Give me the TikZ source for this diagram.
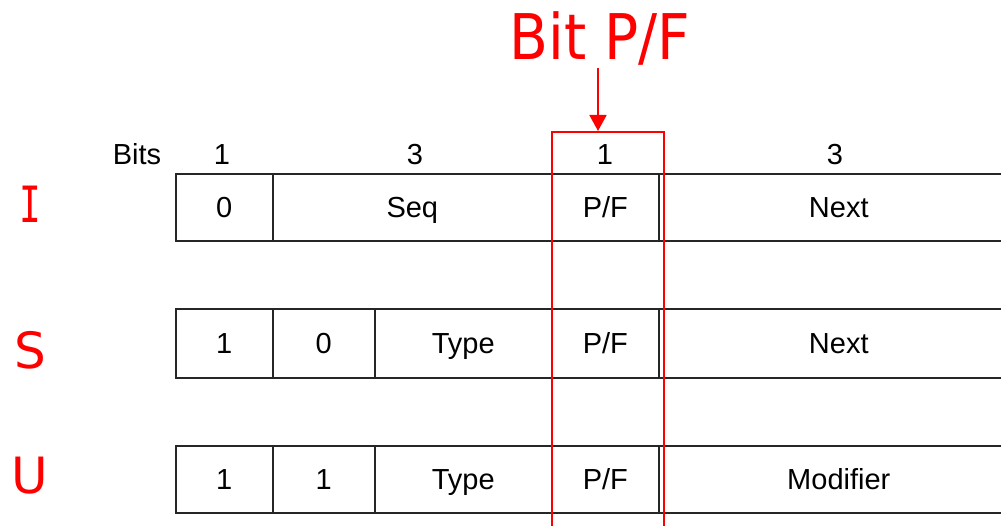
\documentclass[tikz,border=0pt]{standalone}
\usepackage{fontspec}
\setmainfont{Liberation Sans}
\newfontfamily\redfont{DejaVu Sans}
\newfontfamily\redmono{DejaVu Sans Mono}
\usetikzlibrary{arrows.meta}
\tikzset{
  cell/.style={draw=black!85, line width=1.6pt, minimum height=67pt, inner sep=0pt,
    text height=20pt, text depth=0pt,
    anchor=north west, font=\fontsize{29}{32}\selectfont},
  hdr/.style={anchor=base, inner sep=0pt, font=\fontsize{29}{32}\selectfont},
  rowlbl/.style={text=red, inner sep=0pt, font=\fontsize{50}{56}\redfont},
  pfbox/.style={draw=red, line width=2pt, inner sep=0pt, anchor=north west},
  pfarrow/.style={draw=red, line width=1.8pt, -{Triangle[width=17pt,length=16pt]}}
}
\begin{document}
\begin{tikzpicture}[x=1pt,y=-1pt]
\useasboundingbox (0,0) rectangle (1001,526);
% header
\node[hdr] (bits) at (137,165) {Bits};
\node[hdr] (h1) at (222,165) {1};
\node[hdr] (h2) at (415,165) {3};
\node[hdr] (h3) at (605,165) {1};
\node[hdr] (h4) at (835,165) {3};
% row I
\node[cell, minimum width=97pt] (i1) at (175,173) {0};
\node[cell, minimum width=279pt] (i2) at (272,173) {Seq};
\node[cell, minimum width=107pt] (i3) at (551,173) {P/F};
\node[cell, minimum width=360pt] (i4) at (658,173) {Next};
% row S
\node[cell, minimum width=97pt, minimum height=69pt] (s1) at (175,308) {1};
\node[cell, minimum width=102pt, minimum height=69pt] (s2) at (272,308) {0};
\node[cell, minimum width=177pt, minimum height=69pt] (s3) at (374,308) {Type};
\node[cell, minimum width=107pt, minimum height=69pt] (s4) at (551,308) {P/F};
\node[cell, minimum width=360pt, minimum height=69pt] (s5) at (658,308) {Next};
% row U
\node[cell, minimum width=97pt] (u1) at (175,445) {1};
\node[cell, minimum width=102pt] (u2) at (272,445) {1};
\node[cell, minimum width=177pt] (u3) at (374,445) {Type};
\node[cell, minimum width=107pt] (u4) at (551,445) {P/F};
\node[cell, minimum width=360pt] (u5) at (658,445) {Modifier};
% row labels
\node[rowlbl] (li) at (30,204) {\redmono\scalebox{0.72}[1]{I}};
\node[rowlbl] (ls) at (30,350) {S};
\node[rowlbl] (lu) at (30,476) {U};
% P/F highlight
\node[pfbox, minimum width=112pt, minimum height=420pt] (pf) at (551,131) {};
\node[text=red, inner sep=0pt, font=\fontsize{63}{70}\redfont] (title) at (600,38) {\scalebox{0.9}[1]{Bit P/F}};
\coordinate (arstart) at (598,68);
\draw[pfarrow] (arstart) -- (arstart |- pf.north);
\end{tikzpicture}
\end{document}
